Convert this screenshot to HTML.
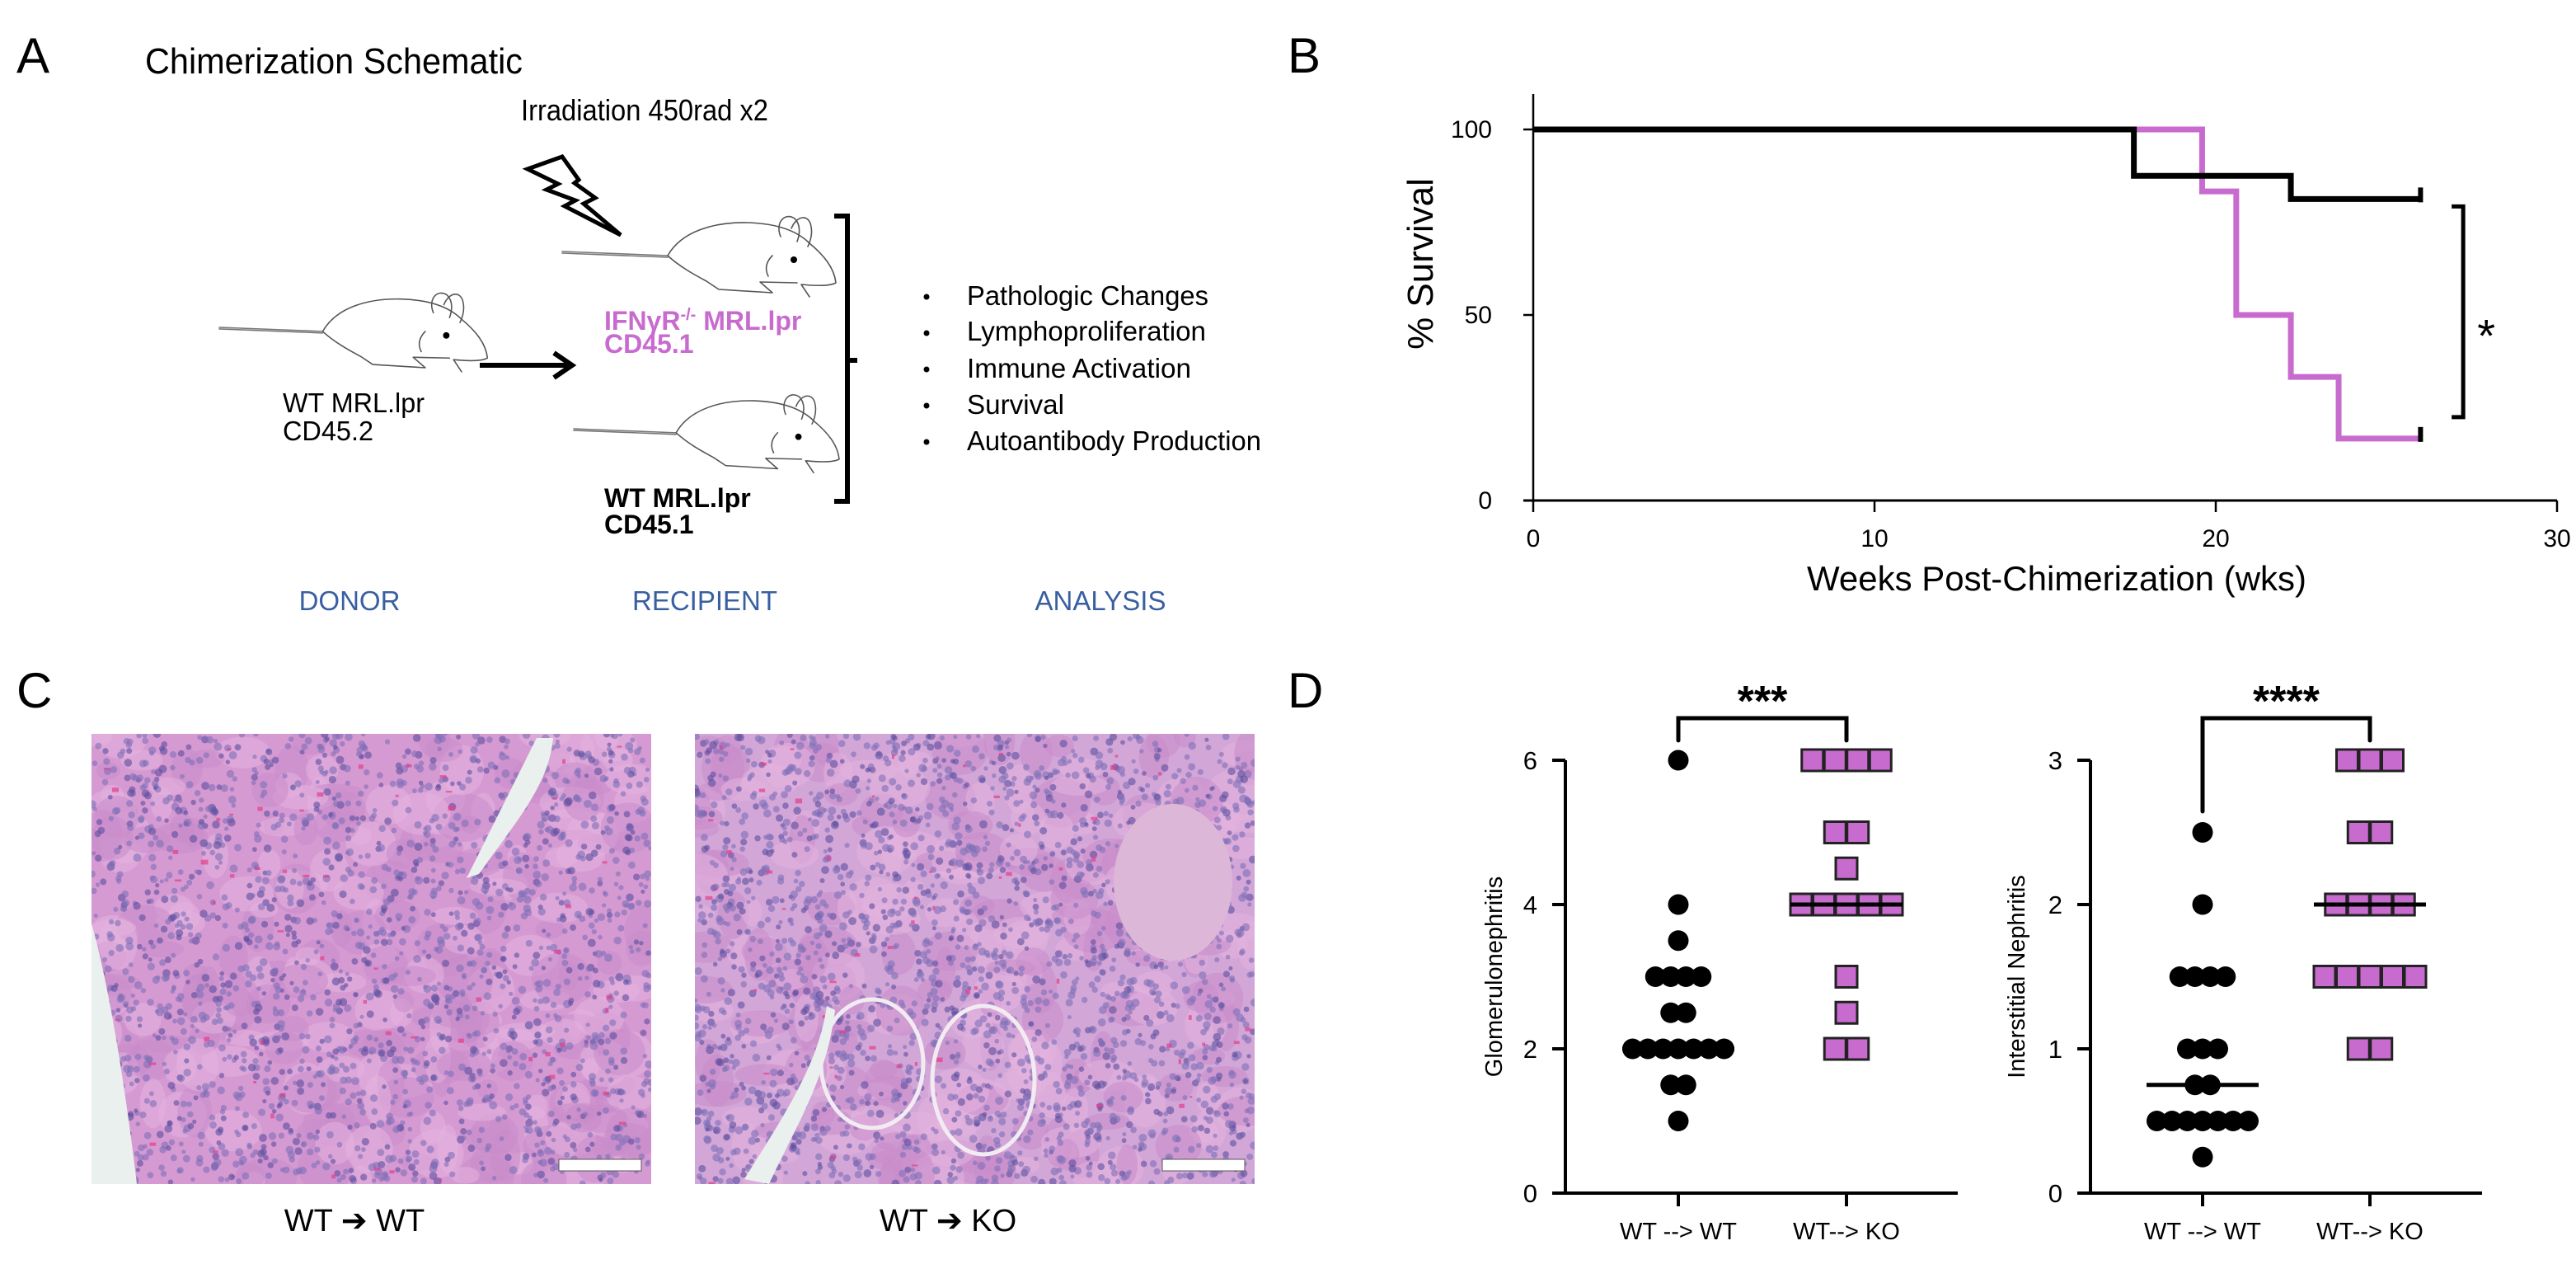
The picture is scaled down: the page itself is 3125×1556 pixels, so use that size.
<!DOCTYPE html>
<html><head><meta charset="utf-8"><style>
html,body{margin:0;padding:0;background:#fff;width:3125px;height:1556px;overflow:hidden}
svg{display:block}
text{font-family:"Liberation Sans",Arial,sans-serif}
</style></head><body>
<svg id="fig" width="3125" height="1556" viewBox="0 0 3125 1556" xmlns="http://www.w3.org/2000/svg">
<!-- Panel A -->
<g>
<text x="20" y="88" font-size="60">A</text>
<text x="176" y="89" font-size="44" textLength="458" lengthAdjust="spacingAndGlyphs">Chimerization Schematic</text>
<text x="632" y="146" font-size="36" textLength="300" lengthAdjust="spacingAndGlyphs">Irradiation 450rad x2</text>
<polygon points="640,205 682,190 702,218 697,222 722,240 708,247 753,285 685,250 698,243 663,230 677,223" fill="#fff" stroke="#000" stroke-width="5" stroke-linejoin="miter"/>
<g id="mice"></g>
<line x1="582" y1="443" x2="690" y2="443" stroke="#000" stroke-width="6"/>
<polyline points="672,428 694,443 672,458" fill="none" stroke="#000" stroke-width="6"/>
<text x="343" y="500" font-size="33" textLength="172" lengthAdjust="spacingAndGlyphs">WT MRL.lpr</text>
<text x="343" y="534" font-size="33" textLength="110" lengthAdjust="spacingAndGlyphs">CD45.2</text>
<text x="733" y="400" font-size="32" font-weight="bold" fill="#c86bcf">IFNγR<tspan dy="-12" font-size="20">-/-</tspan><tspan dy="12"> MRL.lpr</tspan></text>
<text x="733" y="428" font-size="32" font-weight="bold" fill="#c86bcf">CD45.1</text>
<text x="733" y="615" font-size="32" font-weight="bold">WT  MRL.lpr</text>
<text x="733" y="647" font-size="32" font-weight="bold">CD45.1</text>
<path d="M1012,262 L1028,262 L1028,608 L1012,608 M1028,437 L1040,437" fill="none" stroke="#000" stroke-width="6"/>
<g font-size="33">
<circle cx="1124" cy="360" r="3.5" fill="#000"/><text x="1173" y="370" textLength="293" lengthAdjust="spacingAndGlyphs">Pathologic Changes</text>
<circle cx="1124" cy="404" r="3.5" fill="#000"/><text x="1173" y="413" textLength="290" lengthAdjust="spacingAndGlyphs">Lymphoproliferation</text>
<circle cx="1124" cy="448" r="3.5" fill="#000"/><text x="1173" y="458" textLength="272" lengthAdjust="spacingAndGlyphs">Immune Activation</text>
<circle cx="1124" cy="492" r="3.5" fill="#000"/><text x="1173" y="502" textLength="118" lengthAdjust="spacingAndGlyphs">Survival</text>
<circle cx="1124" cy="536" r="3.5" fill="#000"/><text x="1173" y="546" textLength="357" lengthAdjust="spacingAndGlyphs">Autoantibody Production</text>
</g>
<text x="424" y="740" font-size="33" fill="#3a5fa0" text-anchor="middle">DONOR</text>
<text x="855" y="740" font-size="33" fill="#3a5fa0" text-anchor="middle">RECIPIENT</text>
<text x="1335" y="740" font-size="33" fill="#3a5fa0" text-anchor="middle">ANALYSIS</text>
</g>

<!-- Panel B -->
<g id="panelB">
<text x="1562" y="88" font-size="60">B</text>
<text transform="translate(1738,320) rotate(-90)" font-size="44" text-anchor="middle">% Survival</text>
<text x="2495" y="716" font-size="42" text-anchor="middle">Weeks Post-Chimerization (wks)</text>
</g>

<!-- Panel C -->
<g>
<text x="20" y="858" font-size="60">C</text>
<g id="histo"></g>
<text x="430" y="1493" font-size="38" text-anchor="middle">WT ➔ WT</text>
<text x="1150" y="1493" font-size="38" text-anchor="middle">WT ➔ KO</text>
</g>

<!-- Panel D -->
<g id="panelD">
<text x="1562" y="858" font-size="60">D</text>
</g>
</svg>
<script>
const NS='http://www.w3.org/2000/svg';
function mk(parent,tag,attrs,txt){const e=document.createElementNS(NS,tag);for(const k in attrs)e.setAttribute(k,attrs[k]);if(txt!==undefined)e.textContent=txt;parent.appendChild(e);return e;}

// ---------- Survival data ----------
const wtTimes=[0,17.6,22.2,26.0];
const wtSurv=[100,87.5,81.25,81.25];
const koTimes=[0,19.6,20.6,22.2,23.6,26.0];
const koSurv=[100,83.3,50,33.3,16.7,16.7];
const xTicksB=[0,10,20,30];
const yTicksB=[0,50,100];

// ---------- Dot plot data ----------
const categoriesD=['WT --> WT','WT--> KO'];
const glomWT=[6,4,3.5,3,3,3,3,2.5,2.5,2,2,2,2,2,2,2,1.5,1.5,1];
const glomKO=[6,6,6,6,5,5,4.5,4,4,4,4,4,3,2.5,2,2];
const interWT=[2.5,2,1.5,1.5,1.5,1.5,1,1,1,0.75,0.75,0.5,0.5,0.5,0.5,0.5,0.5,0.5,0.25];
const interKO=[3,3,3,2.5,2.5,2,2,2,2,1.5,1.5,1.5,1.5,1.5,1,1];
const glomTicks=[0,2,4,6];
const interTicks=[0,1,2,3];

// ---------- Mice ----------
const mice=document.getElementById('mice');
function mouse(ox,oy,s,name){
  const g=mk(mice,'g',{transform:`translate(${ox},${oy}) scale(${s})`});
  
  
  const st={fill:'none',stroke:'#555','stroke-width':1.6,'stroke-linejoin':'round','stroke-linecap':'round'};
  mk(g,'path',Object.assign({d:'M0,0 L128,5 M0,2 L128,7'},st,{stroke:'#777'}));
  mk(g,'path',Object.assign({d:'M128,5 C145,-25 185,-36 225,-35 C260,-34 285,-25 300,-10 C318,5 330,20 332,38 C325,42 310,42 290,40 L300,55 M285,38 L240,37 L255,50 L190,46 L175,36 C160,28 142,18 128,5'},st));
  mk(g,'path',Object.assign({d:'M265,-18 C258,-35 270,-48 282,-40 C290,-32 288,-20 285,-12 M278,-28 C285,-45 300,-45 302,-30 C304,-20 300,-10 298,-6 M250,30 C245,20 248,12 255,5'},st));
  mk(g,'circle',{cx:281,cy:10,r:4,fill:'#000'});
}
mouse(682,305,1,'ko-recipient-mouse');
mouse(266,397,0.98,'donor-mouse');
mouse(696,520,0.97,'wt-recipient-mouse');

// ---------- Panel B ----------
const pB=document.getElementById('panelB');
const bx0=1860,bx1=3102,by0=607,by100=157;
const xB=v=>bx0+(v/30)*(bx1-bx0);
const yB=v=>by0-(v/100)*(by0-by100);
mk(pB,'line',{x1:bx0,y1:114,x2:bx0,y2:by0,stroke:'#000','stroke-width':2.5});
mk(pB,'line',{x1:bx0-12,y1:by0,x2:bx1,y2:by0,stroke:'#000','stroke-width':3});
xTicksB.forEach(t=>{
  const l=mk(pB,'line',{x1:xB(t),y1:by0,x2:xB(t),y2:by0+14,stroke:'#000','stroke-width':2.5});
  
  
  const tx=mk(pB,'text',{x:xB(t),y:by0+56,'font-size':30,'text-anchor':'middle'},String(t));
  
  
});
yTicksB.forEach(t=>{
  mk(pB,'line',{x1:bx0-12,y1:yB(t),x2:bx0,y2:yB(t),stroke:'#000','stroke-width':2.5});
  const tx=mk(pB,'text',{x:bx0-50,y:yB(t)+10,'font-size':30,'text-anchor':'end'},String(t));
  
  
});
function stepPath(ts,vs){
  let d=`M${xB(ts[0])},${yB(vs[0])}`;
  for(let i=1;i<ts.length;i++){d+=` H${xB(ts[i])} V${yB(vs[i])}`;}
  return d;
}
const koLine=mk(pB,'path',{d:stepPath(koTimes,koSurv),fill:'none',stroke:'#c86bcf','stroke-width':7});


const wtLine=mk(pB,'path',{d:stepPath(wtTimes,wtSurv),fill:'none',stroke:'#000','stroke-width':7});


[[wtTimes,wtSurv],[koTimes,koSurv]].forEach(([t,v])=>{
  const xe=xB(t[t.length-1]),ye=yB(v[v.length-1]);
  mk(pB,'line',{x1:xe,y1:ye-14,x2:xe,y2:ye+4,stroke:'#000','stroke-width':6});
});
const brX=xB(27.25);
const br=mk(pB,'path',{d:`M${brX-14},${yB(wtSurv[wtSurv.length-1])+9} H${brX} V${yB(koSurv[koSurv.length-1])-26} H${brX-14}`,fill:'none',stroke:'#000','stroke-width':5});


const star=mk(pB,'text',{x:brX+28,y:yB(45)+22,'font-size':56,'text-anchor':'middle'},'*');



// ---------- Panel C histology (texture) ----------
const histo=document.getElementById('histo');
let seed=7;function rnd(){seed=(seed*16807)%2147483647;return seed/2147483647;}
function histImg(x,y,w,h,name,ko){
  const g=mk(histo,'g',{});
  
  
  const cp=mk(g,'clipPath',{id:'clip'+name});mk(cp,'rect',{x,y,width:w,height:h});
  const inner=mk(g,'g',{'clip-path':`url(#clip${name})`});
  mk(inner,'rect',{x,y,width:w,height:h,fill:ko?'#d3a6d8':'#d69ad2'});
  for(let i=0;i<260;i++){
    mk(inner,'ellipse',{cx:x+rnd()*w,cy:y+rnd()*h,rx:12+rnd()*26,ry:10+rnd()*22,fill:rnd()<0.5?'#e3b2de':'#c98ccb',opacity:0.55});
  }
  const n=ko?2300:2000;
  for(let i=0;i<n;i++){
    mk(inner,'circle',{cx:x+rnd()*w,cy:y+rnd()*h,r:2.5+rnd()*2.5,fill:rnd()<0.7?'#7f6fb8':'#5b4e9e',opacity:0.6});
  }
  for(let i=0;i<60;i++){
    mk(inner,'rect',{x:x+rnd()*w,y:y+rnd()*h,width:3+rnd()*6,height:2+rnd()*4,fill:'#e23f8a',opacity:0.7});
  }
  if(!ko){
    mk(inner,'path',{d:`M${x},${y+230} C${x+20},${y+300} ${x+40},${y+420} ${x+55},${y+546} L${x},${y+546} Z`,fill:'#eaf0ee'});
    mk(inner,'path',{d:`M${x+540},${y+5} L${x+560},${y+5} C${x+555},${y+60} ${x+520},${y+100} ${x+470},${y+170} L${x+455},${y+175} C${x+470},${y+130} ${x+510},${y+80} Z`,fill:'#eaf0ee'});
  } else {
    mk(inner,'ellipse',{cx:x+580,cy:y+180,rx:72,ry:95,fill:'#dcb7d8'});
    mk(inner,'ellipse',{cx:x+215,cy:y+400,rx:62,ry:78,fill:'none',stroke:'#f2ecf2','stroke-width':5});
    mk(inner,'ellipse',{cx:x+350,cy:y+420,rx:62,ry:90,fill:'none',stroke:'#f2ecf2','stroke-width':5});
    mk(inner,'path',{d:`M${x+60},${y+540} C${x+110},${y+460} ${x+150},${y+400} ${x+160},${y+330} L${x+170},${y+335} C${x+160},${y+420} ${x+120},${y+480} ${x+90},${y+546} Z`,fill:'#eaf0ee'});
  }
  mk(inner,'rect',{x:x+w-112,y:y+h-30,width:100,height:14,fill:'#fff',stroke:'#555','stroke-width':1});
}
histImg(111,890,679,546,'histology-wt-to-wt',false);
histImg(843,890,679,546,'histology-wt-to-ko',true);

// ---------- Panel D ----------
const pD=document.getElementById('panelD');
function dotPlot(o){
  const g=mk(pD,'g',{});
  
  
  const y=v=>o.y0-(v/o.max)*(o.y0-o.yTop);
  mk(g,'line',{x1:o.ax,y1:y(o.max),x2:o.ax,y2:o.y0,stroke:'#000','stroke-width':4});
  mk(g,'line',{x1:o.ax-16,y1:o.y0,x2:o.xEnd,y2:o.y0,stroke:'#000','stroke-width':4});
  o.ticks.forEach(t=>{
    mk(g,'line',{x1:o.ax-16,y1:y(t),x2:o.ax,y2:y(t),stroke:'#000','stroke-width':4});
    const tl=mk(g,'text',{x:o.ax-34,y:y(t)+11,'font-size':31,'text-anchor':'end'},String(t));
    
    
  });
  o.gx.forEach((gx,i)=>{
    mk(g,'line',{x1:gx,y1:o.y0,x2:gx,y2:o.y0+16,stroke:'#000','stroke-width':4});
    const cl=mk(g,'text',{x:gx,y:o.y0+56,'font-size':29,'text-anchor':'middle'},categoriesD[i]);
    
    
  });
  const yt=mk(g,'text',{transform:`translate(${o.tx},${(o.y0+y(o.max))/2}) rotate(-90)`,'font-size':29,'text-anchor':'middle'},o.title);
  
  
  function rows(vals){const m={};vals.forEach(v=>{m[v]=(m[v]||0)+1;});return m;}
  function median(vals){const s=[...vals].sort((a,b)=>a-b);const n=s.length;return n%2?s[(n-1)/2]:(s[n/2-1]+s[n/2])/2;}
  const rw=rows(o.wt);
  Object.keys(rw).forEach(k=>{
    const n=rw[k];
    for(let i=0;i<n;i++){
      const c=mk(g,'circle',{cx:o.gx[0]+(i-(n-1)/2)*18.5,cy:y(+k),r:12.5,fill:'#000'});
      
      
    }
  });
  const rk=rows(o.ko);
  Object.keys(rk).forEach(k=>{
    const n=rk[k];
    for(let i=0;i<n;i++){
      const s=mk(g,'rect',{x:o.gx[1]+(i-(n-1)/2)*27.5-13,y:y(+k)-13,width:26,height:26,fill:'#c86bcf',stroke:'#222','stroke-width':3});
      
      
    }
  });
  [o.wt,o.ko].forEach((vals,i)=>{
    const m=mk(g,'line',{x1:o.gx[i]-68,y1:y(median(vals)),x2:o.gx[i]+68,y2:y(median(vals)),stroke:'#000','stroke-width':5});
    
    
  });
  const b=mk(g,'path',{d:`M${o.gx[0]},${o.legL} V871 H${o.gx[1]} V${o.legR}`,fill:'none',stroke:'#000','stroke-width':5,'stroke-linecap':'round'});
  
  
  const st=mk(g,'text',{x:(o.gx[0]+o.gx[1])/2,y:868,'font-size':52,'font-weight':'bold','text-anchor':'middle'},o.stars);
  
  
}
dotPlot({name:'glomerulonephritis-plot',ax:1899,xEnd:2375,y0:1447,yTop:922,max:6,ticks:glomTicks,gx:[2036,2240],tx:1822,title:'Glomerulonephritis',wt:glomWT,ko:glomKO,stars:'***',legL:898,legR:898});
dotPlot({name:'interstitial-nephritis-plot',ax:2536,xEnd:3011,y0:1447,yTop:922,max:3,ticks:interTicks,gx:[2672,2875],tx:2456,title:'Interstitial Nephritis',wt:interWT,ko:interKO,stars:'****',legL:984,legR:898});
</script>
</body></html>
